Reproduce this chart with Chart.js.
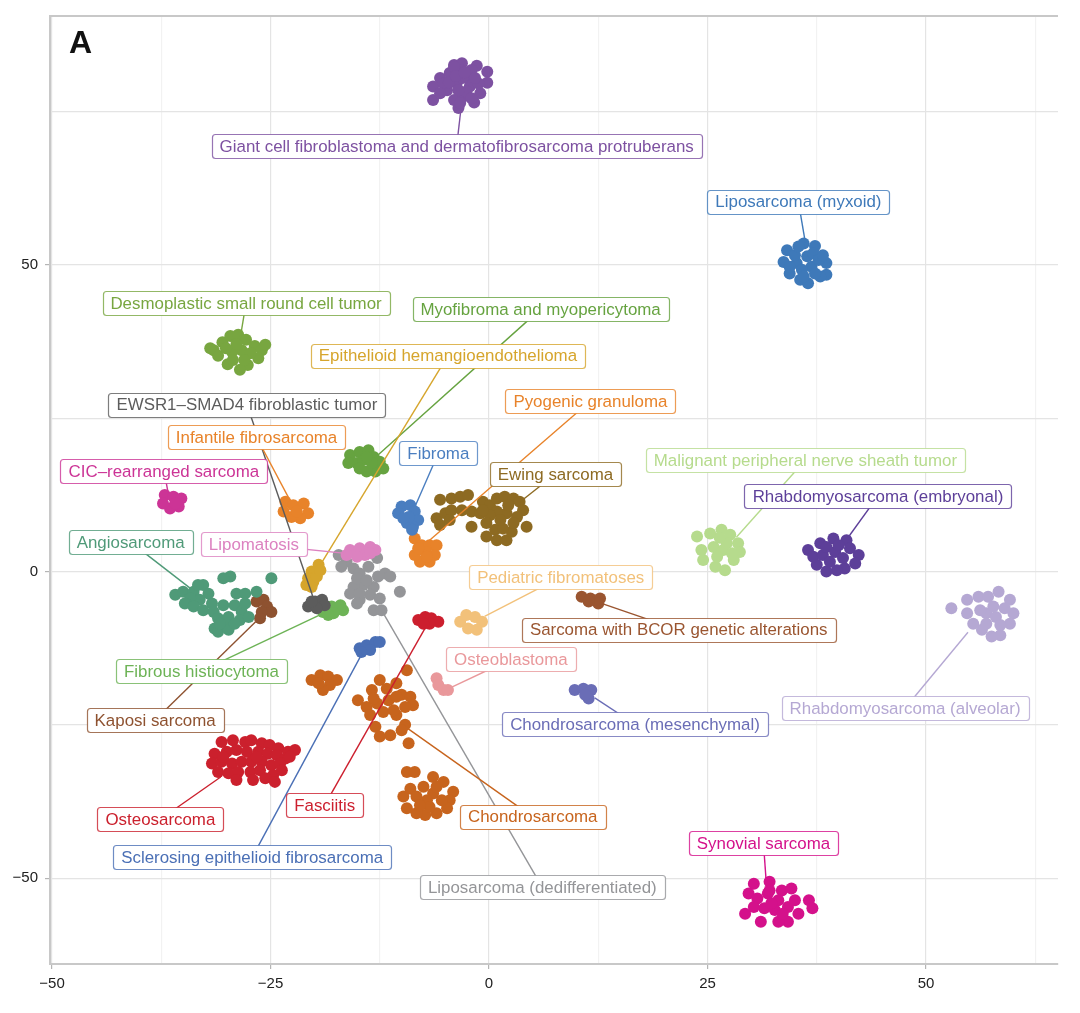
<!DOCTYPE html>
<html>
<head>
<meta charset="utf-8">
<script src="https://cdn.jsdelivr.net/npm/chart.js@4.4.0/dist/chart.umd.min.js"></script>
<style>
  html, body { margin: 0; padding: 0; background: #fff; }
</style>
</head>
<body>
<canvas id="tsne" width="1080" height="1013"></canvas>
<script>
// tumour classes, in drawing order
const categories = [
  'Giant cell fibroblastoma and dermatofibrosarcoma protruberans',
  'Liposarcoma (myxoid)',
  'Desmoplastic small round cell tumor',
  'Myofibroma and myopericytoma',
  'Epithelioid hemangioendothelioma',
  'EWSR1\u2013SMAD4 fibroblastic tumor',
  'Infantile fibrosarcoma',
  'CIC\u2013rearranged sarcoma',
  'Fibroma',
  'Pyogenic granuloma',
  'Ewing sarcoma',
  'Malignant peripheral nerve sheath tumor',
  'Rhabdomyosarcoma (embryonal)',
  'Rhabdomyosarcoma (alveolar)',
  'Angiosarcoma',
  'Lipomatosis',
  'Liposarcoma (dedifferentiated)',
  'Fibrous histiocytoma',
  'Kaposi sarcoma',
  'Pediatric fibromatoses',
  'Sarcoma with BCOR genetic alterations',
  'Osteoblastoma',
  'Chondrosarcoma (mesenchymal)',
  'Osteosarcoma',
  'Fasciitis',
  'Sclerosing epithelioid fibrosarcoma',
  'Chondrosarcoma',
  'Synovial sarcoma'
];

// t-SNE coordinates per class [x, y]
const giantCell = [[-4.0,82.6],[-3.1,82.9],[-1.4,82.5],[-0.2,81.5],[-0.2,79.7],[-1.0,78.0],[-1.7,76.5],[-3.5,75.6],[-5.6,80.5],[-6.4,79.1],[-6.4,76.9],[-4.8,78.5],[-3.7,79.6],[-2.6,80.7],[-3.3,81.8],[-2.2,79.1],[-4.5,81.3],[-2.9,77.5],[-4.0,76.9],[-5.2,79.6],[-2.6,78.3],[-1.2,79.6],[-3.5,78.5],[-4.0,82.3],[-2.0,81.8],[-5.6,78.0],[-3.3,76.4],[-3.0,80.5],[-2.0,77.2],[-4.6,79.8],[-1.6,80.5],[-3.8,80.8],[-2.8,81.4]];
const lipoMyxoid = [[36.0,53.5],[37.3,53.1],[34.1,52.4],[33.7,50.5],[34.4,48.6],[35.6,47.6],[36.5,47.0],[38.6,50.3],[38.6,48.4],[37.9,48.1],[36.4,51.4],[36.9,49.7],[35.2,50.3],[35.8,49.2],[37.1,51.9],[35.0,51.6],[37.7,50.8],[34.4,49.7],[36.0,48.1],[37.3,48.6],[38.2,51.6],[35.4,53.0]];
const dsrct = [[-31.5,36.1],[-30.5,37.4],[-29.6,38.4],[-28.7,38.6],[-27.8,37.8],[-26.8,36.8],[-26.0,36.1],[-26.4,34.8],[-27.6,33.7],[-28.5,32.9],[-29.9,33.8],[-31.0,35.2],[-29.4,35.8],[-28.3,36.1],[-28.9,37.1],[-30.1,36.4],[-27.3,35.6],[-28.0,34.5],[-29.3,34.5],[-31.9,36.4],[-25.6,37.0]];
const myofibroma = [[-15.9,19.0],[-14.8,19.5],[-13.8,19.8],[-13.2,18.7],[-12.5,17.9],[-12.1,16.8],[-13.0,16.3],[-14.0,16.3],[-15.1,17.7],[-14.4,18.2],[-16.1,17.7],[-14.8,16.8],[-13.4,17.7],[-14.0,18.7]];
const epithelioid = [[-19.5,1.1],[-20.3,0.0],[-20.7,-1.1],[-20.1,-1.7],[-19.7,-0.8],[-20.9,-2.2],[-20.3,-2.5],[-19.3,0.2]];
const ewsr1Smad4 = [[-20.7,-5.7],[-19.9,-4.9],[-19.1,-4.6],[-18.8,-5.5],[-19.7,-6.0],[-20.3,-4.9]];
const infantile = [[-23.3,11.4],[-22.4,10.8],[-21.2,11.1],[-20.7,9.5],[-21.6,8.7],[-22.6,8.9],[-23.5,9.8],[-22.0,9.8]];
const cicSarcoma = [[-37.1,12.5],[-36.1,12.2],[-35.2,11.9],[-35.5,10.6],[-36.5,10.3],[-37.3,11.1],[-35.9,11.1]];
const fibroma = [[-10.0,10.6],[-9.0,10.8],[-8.5,9.8],[-8.1,8.4],[-8.7,7.3],[-9.4,7.9],[-10.4,9.5],[-9.2,8.9],[-8.8,6.8],[-9.8,8.7]];
const pyogenic = [[-8.5,5.4],[-7.7,4.3],[-6.8,4.3],[-6.0,4.3],[-6.2,2.7],[-6.8,1.6],[-7.9,1.6],[-8.5,2.7],[-7.3,3.2],[-8.1,3.8],[-7.1,2.4]];
const ewing = [[-5.6,11.7],[-4.3,11.9],[-3.3,12.2],[-2.4,12.5],[-6.0,8.7],[-5.0,9.5],[-4.3,10.0],[-3.1,10.0],[-2.0,9.8],[-1.0,9.5],[-5.6,7.6],[-4.5,8.4],[-2.0,7.3],[-0.7,11.4],[0.1,10.8],[0.9,11.9],[1.8,12.2],[2.8,11.9],[3.5,11.4],[3.9,10.0],[4.3,7.3],[3.2,8.9],[2.0,9.5],[0.9,9.8],[0.1,9.2],[-0.3,7.9],[0.7,6.8],[-0.3,5.7],[0.9,5.1],[2.0,5.1],[2.6,6.5],[1.6,7.0],[2.8,7.9],[1.3,8.4],[-0.7,10.0],[2.2,10.8]];
const mpnst = [[23.8,5.7],[25.3,6.2],[26.6,6.8],[27.6,6.0],[28.5,4.6],[28.7,3.2],[28.0,1.9],[27.0,0.2],[25.9,0.8],[24.5,1.9],[24.3,3.5],[25.7,4.0],[26.8,3.5],[26.1,2.4],[27.2,4.6],[27.8,3.0],[26.4,5.5]];
const rmsEmbryonal = [[36.5,3.5],[37.9,4.6],[39.4,5.4],[40.9,5.1],[41.3,3.8],[42.3,2.7],[41.9,1.3],[40.7,0.5],[39.8,0.2],[38.6,0.0],[37.5,1.1],[37.1,2.4],[38.2,2.7],[39.6,3.2],[40.5,2.2],[39.0,1.6],[40.0,4.3],[38.6,4.0]];
const rmsAlveolar = [[52.9,-6.0],[54.7,-4.6],[56.0,-4.1],[57.1,-4.1],[58.3,-3.3],[59.6,-4.6],[60.0,-6.8],[59.6,-8.5],[58.5,-10.4],[57.5,-10.6],[56.4,-9.5],[55.4,-8.5],[54.7,-6.8],[56.9,-6.8],[58.0,-7.4],[59.0,-6.0],[57.7,-5.7],[56.2,-6.3],[56.9,-8.5],[58.5,-8.7]];
const angiosarcoma = [[-35.9,-3.8],[-35.0,-3.3],[-33.8,-3.3],[-32.7,-2.2],[-32.1,-3.6],[-31.7,-5.2],[-33.1,-4.6],[-34.2,-4.4],[-34.8,-5.2],[-33.8,-5.7],[-32.7,-6.3],[-31.5,-6.6],[-31.0,-7.6],[-31.4,-9.3],[-31.0,-9.8],[-30.0,-9.0],[-29.8,-7.4],[-30.4,-5.5],[-29.1,-5.5],[-28.3,-6.6],[-27.9,-5.2],[-26.6,-3.3],[-24.9,-1.1],[-29.6,-0.8],[-30.4,-1.1],[-28.9,-3.6],[-28.5,-7.9],[-29.8,-9.5],[-29.1,-8.5],[-27.5,-7.4],[-27.9,-3.6],[-33.3,-2.2],[-30.8,-8.5]];
const lipomatosis = [[-15.9,3.5],[-14.8,3.8],[-13.6,4.0],[-13.0,3.5],[-14.2,2.7],[-15.1,2.4],[-16.3,2.7],[-13.6,3.0]];
const lipoDediff = [[-17.2,2.7],[-16.3,1.6],[-16.9,0.8],[-15.5,0.5],[-14.8,-0.3],[-13.8,0.8],[-12.8,2.2],[-12.7,-0.8],[-11.9,-0.3],[-11.3,-0.8],[-10.2,-3.3],[-13.2,-2.5],[-14.4,-2.2],[-15.5,-2.5],[-15.9,-3.6],[-14.8,-4.6],[-13.6,-3.8],[-12.5,-4.4],[-13.2,-6.3],[-12.3,-6.3],[-15.1,-1.1],[-14.0,-1.4],[-14.8,-3.6],[-15.1,-5.2]];
const fibrousHist = [[-19.0,-6.6],[-18.0,-5.7],[-17.0,-5.5],[-16.7,-6.3],[-17.8,-6.8],[-18.4,-7.1]];
const kaposi = [[-26.6,-4.9],[-25.8,-4.6],[-25.4,-5.7],[-24.9,-6.6],[-26.0,-6.6],[-26.2,-7.6]];
const pediatricFib = [[-3.3,-8.2],[-2.6,-7.1],[-1.6,-7.4],[-0.8,-8.2],[-1.4,-9.5],[-2.4,-9.3]];
const bcorSarcoma = [[10.6,-4.1],[11.6,-4.4],[12.7,-4.4],[12.5,-5.2],[11.4,-4.9]];
const osteoblastoma = [[-6.0,-17.4],[-5.8,-18.5],[-5.2,-19.3],[-4.7,-19.3]];
const chondroMes = [[9.8,-19.3],[10.8,-19.1],[11.7,-19.3],[11.4,-20.7],[11.0,-20.1]];
const osteosarcoma = [[-30.6,-27.8],[-29.3,-27.5],[-27.9,-27.8],[-27.2,-27.5],[-26.0,-28.0],[-25.1,-28.3],[-24.1,-28.8],[-23.0,-29.4],[-22.2,-29.1],[-31.4,-29.7],[-30.0,-29.4],[-28.9,-29.1],[-27.7,-29.4],[-26.4,-29.4],[-25.3,-29.7],[-24.3,-29.9],[-23.3,-30.5],[-31.7,-31.3],[-30.6,-31.0],[-29.4,-31.3],[-28.3,-31.0],[-27.2,-31.0],[-26.0,-31.0],[-24.9,-31.6],[-23.9,-31.3],[-31.0,-32.7],[-29.8,-32.9],[-28.7,-32.7],[-27.3,-32.7],[-26.2,-32.4],[-24.7,-33.2],[-28.9,-34.0],[-27.0,-34.0],[-25.6,-33.7],[-24.5,-34.3],[-22.8,-30.2],[-23.7,-32.4],[-30.4,-30.2],[-26.6,-30.2]];
const fasciitis = [[-8.1,-7.9],[-7.3,-7.4],[-6.6,-7.6],[-5.8,-8.2],[-6.8,-8.5],[-7.5,-8.5]];
const sclerosing = [[-14.8,-12.5],[-14.0,-12.0],[-13.0,-11.5],[-12.5,-11.5],[-13.6,-12.8],[-14.6,-13.1]];
const chondrosarcoma = [[-20.3,-17.7],[-19.3,-16.9],[-18.4,-17.1],[-17.4,-17.7],[-18.2,-18.5],[-19.0,-19.3],[-19.5,-18.2],
  [-9.4,-16.1],[-12.5,-17.7],[-13.4,-19.3],[-11.7,-19.1],[-10.6,-18.2],[-10.0,-20.1],[-9.0,-20.4],[-8.7,-21.8],[-9.6,-22.1],[-15.0,-21.0],[-14.0,-22.1],[-12.8,-21.5],[-11.5,-21.0],[-12.1,-22.9],[-13.6,-23.4],[-13.0,-25.3],[-10.6,-23.4],[-9.6,-25.0],[-10.0,-25.9],[-11.3,-26.7],[-12.5,-26.9],[-9.2,-28.0],[-10.9,-22.6],[-10.6,-20.4],[-13.2,-20.7],
  [-9.4,-32.7],[-8.5,-32.7],[-6.4,-33.5],[-5.2,-34.3],[-4.1,-35.9],[-4.5,-37.3],[-4.8,-38.6],[-6.0,-39.4],[-7.3,-39.7],[-8.3,-39.4],[-9.4,-38.6],[-9.8,-36.7],[-9.0,-35.4],[-7.5,-35.1],[-6.4,-36.2],[-5.4,-37.3],[-7.1,-37.3],[-8.3,-36.7],[-6.8,-38.4],[-7.9,-38.1],[-6.0,-35.1]];
const synovial = [[30.3,-50.9],[32.1,-50.6],[33.5,-52.0],[34.6,-51.7],[36.6,-53.6],[37.0,-54.9],[35.4,-55.8],[34.2,-57.1],[33.1,-57.1],[31.1,-57.1],[29.3,-55.8],[29.7,-52.5],[30.7,-53.3],[31.9,-52.5],[33.1,-53.6],[34.2,-54.7],[35.0,-53.6],[31.5,-54.9],[32.7,-55.2],[33.6,-55.8],[32.3,-54.1],[30.3,-54.7],[32.1,-52.0]];

const seriesPoints = [giantCell, lipoMyxoid, dsrct, myofibroma, epithelioid, ewsr1Smad4, infantile, cicSarcoma,
  fibroma, pyogenic, ewing, mpnst, rmsEmbryonal, rmsAlveolar, angiosarcoma, lipomatosis, lipoDediff, fibrousHist,
  kaposi, pediatricFib, bcorSarcoma, osteoblastoma, chondroMes, osteosarcoma, fasciitis, sclerosing, chondrosarcoma, synovial];

// axis ticks
const xTicks = [-50, -37.5, -25, -12.5, 0, 12.5, 25, 37.5, 50, 62.5];
const yTicks = [-50, -25, 0, 25, 50, 75];

// styling / label layout (kept apart from the data)
const colors = ['#7d51a1', '#3e79b9', '#78a640', '#66a340', '#d6a52c', '#5c5c5c', '#e8832a', '#cc3496',
  '#4a7ec0', '#e8832a', '#8d6a22', '#b6db8d', '#5d3f99', '#b5a8d3', '#4f9a78', '#dc82c0', '#949598', '#6db356',
  '#8e5230', '#f2c17a', '#9a5530', '#e9989b', '#6a6db6', '#cb202d', '#cc1f2e', '#4a6fb5', '#c7641d', '#d4118b'];
const labelAt = [[-3.7,69.4],[35.4,60.3],[-27.8,43.8],[5.9,42.8],[-4.7,35.2],[-27.7,27.2],[-26.6,21.9],[-37.2,16.4],
  [-5.8,19.3],[11.6,27.8],[7.6,15.9],[36.2,18.2],[44.5,12.3],[47.6,-22.3],[-41.0,4.8],[-26.9,4.5],[6.1,-51.5],[-32.9,-16.2],
  [-38.2,-24.2],[8.2,-0.9],[21.7,-9.5],[2.5,-14.3],[16.7,-24.9],[-37.6,-40.4],[-18.8,-38.1],[-27.1,-46.6],[5.0,-40.0],[31.4,-44.3]];
const segStart = [[-3.2,75.6],[36.2,53.6],[-28.5,37.8],[-12.7,19.0],[-19.3,1.1],[-20.1,-4.3],[-22.8,11.7],[-36.7,12.8],
  [-8.4,10.8],[-6.8,5.1],[3.5,11.3],[28.3,5.6],[41.1,5.6],[54.8,-9.9],[-34.2,-2.7],[-16.7,3.0],[-12.5,-5.8],[-19.1,-6.9],
  [-26.7,-8.2],[-0.5,-7.3],[12.7,-5.1],[-4.5,-19.0],[12.1,-20.6],[-30.7,-33.5],[-7.1,-8.7],[-14.5,-13.3],[-9.4,-25.5],[31.7,-50.3]];

const FONT = '"Liberation Sans", Arial, Helvetica, sans-serif';
const fmt = v => (v < 0 ? '\u2212' + Math.abs(v) : String(v));

const frame = {
  id: 'frame',
  beforeDatasetsDraw(chart) {
    const { ctx, chartArea: a } = chart;
    ctx.save();
    ctx.strokeStyle = '#c8c8c8';
    ctx.lineWidth = 2;
    ctx.beginPath();
    ctx.moveTo(a.left, a.top);
    ctx.lineTo(a.right, a.top);
    ctx.stroke();
    ctx.restore();
  }
};

const repelLabels = {
  id: 'repelLabels',
  afterDatasetsDraw(chart) {
    const { ctx, chartArea: a } = chart;
    const x = chart.scales.x, y = chart.scales.y;
    ctx.save();
    ctx.lineWidth = 1.4;
    categories.forEach((name, i) => {
      ctx.strokeStyle = colors[i];
      ctx.beginPath();
      ctx.moveTo(x.getPixelForValue(segStart[i][0]), y.getPixelForValue(segStart[i][1]));
      ctx.lineTo(x.getPixelForValue(labelAt[i][0]), y.getPixelForValue(labelAt[i][1]));
      ctx.stroke();
    });
    ctx.font = '16.9px ' + FONT;
    ctx.textAlign = 'center';
    ctx.textBaseline = 'middle';
    categories.forEach((name, i) => {
      const cx = x.getPixelForValue(labelAt[i][0]);
      const cy = y.getPixelForValue(labelAt[i][1]);
      const w = Math.round(ctx.measureText(name).width + 16);
      const h = 24;
      const l = Math.round(cx - w / 2) + 0.5, t = Math.round(cy - h / 2) + 0.5;
      ctx.beginPath();
      ctx.roundRect(l, t, w, h, 3);
      ctx.fillStyle = '#fff';
      ctx.fill();
      ctx.globalAlpha = 0.8;
      ctx.strokeStyle = colors[i];
      ctx.lineWidth = 1.2;
      ctx.stroke();
      ctx.globalAlpha = 1;
      ctx.fillStyle = colors[i];
      ctx.fillText(name, cx, cy + 1);
    });
    ctx.font = 'bold 32px ' + FONT;
    ctx.textAlign = 'left';
    ctx.textBaseline = 'alphabetic';
    ctx.fillStyle = '#111';
    ctx.fillText('A', a.left + 19, a.top + 37);
    ctx.restore();
  }
};

const gridColor = c => (c.tick && c.tick.value % 25 === 0 ? '#e4e4e4' : '#f2f2f2');
const tickColor = c => {
  const v = c.tick ? c.tick.value : NaN;
  const major = c.scale.axis === 'x' ? v % 25 === 0 : v % 50 === 0;
  return major ? '#b5b5b5' : 'rgba(0,0,0,0)';
};

new Chart(document.getElementById('tsne'), {
  type: 'scatter',
  data: {
    datasets: categories.map((name, i) => ({
      label: name,
      data: seriesPoints[i].map(p => ({ x: p[0], y: p[1] })),
      backgroundColor: colors[i],
      borderWidth: 0,
      pointRadius: 6,
      pointHoverRadius: 6
    }))
  },
  options: {
    responsive: false,
    animation: false,
    layout: { padding: { top: 16, right: 22, left: 0, bottom: 0 } },
    plugins: { legend: { display: false }, tooltip: { enabled: false } },
    scales: {
      x: {
        type: 'linear',
        min: -50.23,
        max: 65.1,
        afterBuildTicks: s => { s.ticks = xTicks.map(v => ({ value: v })); },
        afterFit: s => { s.height = 49; },
        grid: { color: gridColor, lineWidth: 1.2, tickLength: 5, tickColor: tickColor, tickWidth: 1.2 },
        border: { color: '#c8c8c8', width: 2 },
        ticks: {
          autoSkip: false, maxRotation: 0, padding: 6,
          color: '#222', font: { family: FONT, size: 15 },
          callback: v => (v % 25 === 0 ? fmt(v) : '')
        }
      },
      y: {
        type: 'linear',
        min: -64.0,
        max: 90.6,
        afterBuildTicks: s => { s.ticks = yTicks.map(v => ({ value: v })); },
        afterFit: s => { s.width = 50; },
        grid: { color: gridColor, lineWidth: 1.2, tickLength: 5, tickColor: tickColor, tickWidth: 1.2 },
        border: { color: '#c8c8c8', width: 2 },
        ticks: {
          autoSkip: false, padding: 7,
          color: '#222', font: { family: FONT, size: 15 },
          callback: v => (v % 50 === 0 ? fmt(v) : '')
        }
      }
    }
  },
  plugins: [frame, repelLabels]
});
</script>
</body>
</html>
